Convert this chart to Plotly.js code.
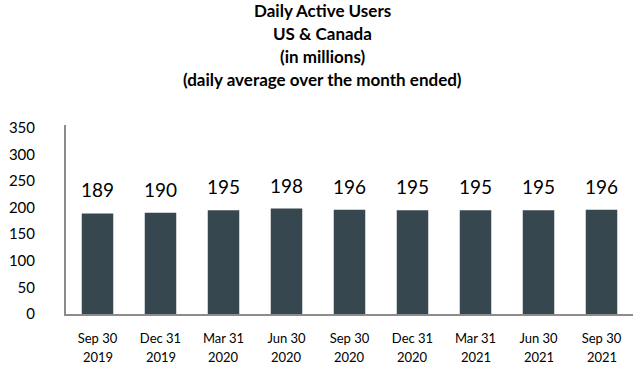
<!DOCTYPE html>
<html><head><meta charset="utf-8">
<script src="https://cdn.plot.ly/plotly-3.0.1.min.js"></script>
<style>html,body{margin:0;padding:0;background:#fff}#c{width:634px;height:366px}</style>
</head><body><div id="c"></div>
<script>
const months = ["Sep 30","Dec 31","Mar 31","Jun 30","Sep 30","Dec 31","Mar 31","Jun 30","Sep 30"];
const years = ["2019","2019","2020","2020","2020","2020","2021","2021","2021"];
const dau = [189,190,195,198,196,195,195,195,196];
const yTicks = [0,50,100,150,200,250,300,350];
const titleLines = ["Daily Active Users","US &amp; Canada","(in millions)","(daily average over the month ended)"];

const font = "Lato, 'Open Sans', sans-serif";
const categories = months.map((m,i)=>m+"|"+i);
const trace = {type:'bar', x:categories, y:dau, marker:{color:'#37474f'}, width:0.5, hoverinfo:'none'};
const annotations = [];
categories.forEach((c,i)=>{
  annotations.push({x:c, y:dau[i], text:String(dau[i]), showarrow:false, yanchor:'bottom', yshift:10, font:{family:font, size:19, color:'#000'}});
  annotations.push({x:c, xref:'x', y:0, yref:'paper', text:years[i], showarrow:false, yanchor:'middle', yshift:-43, font:{family:font, size:13, color:'#000'}});
});
const titleShift = [115, 92, 69, 46];
titleLines.forEach((t,i)=>{
  annotations.push({x:0.453, xref:'paper', xanchor:'center', y:1, yref:'paper', yanchor:'middle', yshift:titleShift[i], text:'<b>'+t+'</b>', showarrow:false, font:{family:font, size:17, color:'#000'}});
});
const layout = {
  width:634, height:366,
  margin:{l:66, r:1, t:125, b:52},
  paper_bgcolor:'#fff', plot_bgcolor:'#fff',
  showlegend:false,
  xaxis:{type:'category', tickvals:categories, ticktext:months, showline:true, linecolor:'#8c8c8c', linewidth:2, showgrid:false, zeroline:false, ticks:'outside', ticklen:11, tickcolor:'rgba(0,0,0,0)', tickfont:{family:font, size:13, color:'#000'}, tickangle:0},
  yaxis:{range:[0,355], tickvals:yTicks, showline:true, linecolor:'#8c8c8c', linewidth:2, showgrid:false, zeroline:false, ticks:'outside', ticklen:26, tickcolor:'rgba(0,0,0,0)', tickfont:{family:font, size:15, color:'#000'}},
  annotations:annotations,
  bargap:0.5
};
Plotly.newPlot('c',[trace],layout,{displayModeBar:false, staticPlot:true});
</script></body></html>
